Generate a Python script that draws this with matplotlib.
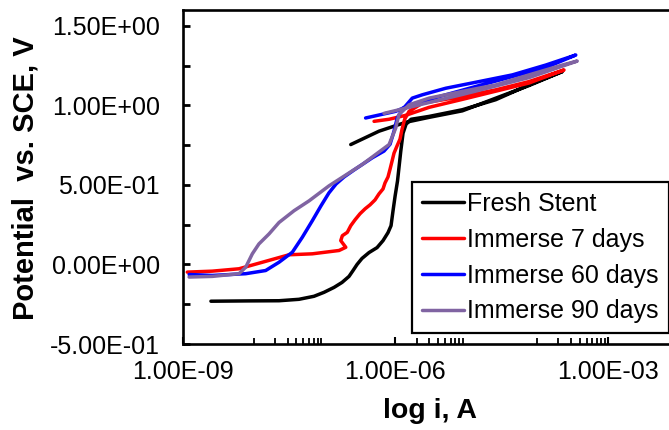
import numpy as np
import matplotlib.pyplot as plt
from matplotlib.ticker import FixedLocator, FuncFormatter, NullFormatter

plt.rcParams['font.family'] = ['Liberation Sans', 'DejaVu Sans']

# current (A) and potential (V vs SCE)
fresh_i = [2.48e-9, 8.55e-9, 2.27e-8, 4.34e-8, 7.08e-8, 9.82e-8, 1.36e-7, 1.76e-7,
           2.21e-7, 2.52e-7, 2.87e-7, 3.37e-7, 4.24e-7, 5.50e-7, 6.68e-7, 7.85e-7,
           8.67e-7, 9.25e-7, 9.90e-7, 1.07e-6, 1.19e-6, 1.28e-6, 1.41e-6, 1.66e-6,
           2.99e-6, 8.81e-6, 2.61e-5, 7.70e-5, 2.28e-4,
           7.70e-5, 8.81e-6, 2.99e-6, 1.40e-6, 5.86e-7, 2.34e-7]
fresh_e = [-0.231, -0.229, -0.228, -0.219, -0.200, -0.175, -0.144, -0.113,
           -0.075, -0.038, 0.000, 0.038, 0.075, 0.106, 0.150, 0.200,
           0.244, 0.338, 0.431, 0.525, 0.713, 0.825, 0.881, 0.913,
           0.931, 0.973, 1.036, 1.129, 1.213,
           1.125, 0.966, 0.925, 0.894, 0.838, 0.754]

d7_i = [1.15e-9, 2.59e-9, 6.18e-9, 1.32e-8, 3.14e-8, 6.70e-8, 1.60e-7, 1.99e-7,
        1.69e-7, 1.78e-7, 2.09e-7, 2.34e-7, 2.69e-7, 3.16e-7, 3.73e-7, 4.38e-7,
        5.15e-7, 5.86e-7, 6.68e-7, 7.13e-7, 7.85e-7, 8.40e-7, 8.96e-7, 9.55e-7,
        1.05e-6, 1.16e-6, 1.24e-6, 1.35e-6, 1.56e-6,
        2.40e-6, 8.81e-6, 2.61e-5, 7.70e-5, 2.40e-4,
        7.70e-5, 8.81e-6, 2.99e-6, 1.40e-6, 8.13e-7, 4.99e-7]
d7_e = [-0.048, -0.042, -0.027, 0.014, 0.061, 0.067, 0.088, 0.108,
        0.150, 0.181, 0.202, 0.244, 0.281, 0.319, 0.350, 0.375,
        0.406, 0.444, 0.475, 0.513, 0.550, 0.600, 0.650, 0.700,
        0.744, 0.788, 0.850, 0.913, 0.963,
        1.014, 1.056, 1.098, 1.150, 1.223,
        1.141, 1.038, 0.988, 0.938, 0.913, 0.900]

d60_i = [1.22e-9, 2.59e-9, 7.69e-9, 1.47e-8, 2.27e-8, 3.50e-8, 4.84e-8, 6.70e-8,
         8.89e-8, 1.15e-7, 1.45e-7, 1.88e-7, 2.60e-7, 4.72e-7, 6.90e-7, 8.40e-7,
         9.55e-7, 1.06e-6, 1.25e-6, 1.73e-6, 2.40e-6, 5.13e-6, 1.52e-5, 4.48e-5,
         1.33e-4, 3.52e-4,
         1.33e-4, 1.52e-5, 2.99e-6, 1.56e-6, 1.01e-6, 3.79e-7]
d60_e = [-0.063, -0.069, -0.058, -0.038, 0.014, 0.077, 0.171, 0.275,
         0.369, 0.450, 0.506, 0.550, 0.594, 0.671, 0.713, 0.756,
         0.838, 0.921, 0.973, 1.046, 1.067, 1.108, 1.150, 1.192,
         1.254, 1.317,
         1.238, 1.125, 1.038, 1.000, 0.963, 0.921]

d90_i = [1.22e-9, 2.59e-9, 6.18e-9, 7.69e-9, 9.53e-9, 1.18e-8, 1.64e-8, 2.27e-8,
         3.70e-8, 6.03e-8, 1.15e-7, 3.40e-7, 8.13e-7, 1.01e-6, 1.12e-6, 1.56e-6,
         2.99e-6, 8.81e-6, 2.61e-5, 7.70e-5, 2.28e-4, 3.69e-4,
         7.70e-5, 8.81e-6, 1.56e-6, 6.90e-7]
d90_e = [-0.079, -0.075, -0.058, -0.017, 0.067, 0.129, 0.192, 0.264,
         0.338, 0.400, 0.494, 0.629, 0.754, 0.858, 0.942, 1.004,
         1.046, 1.088, 1.129, 1.192, 1.254, 1.279,
         1.175, 1.069, 0.988, 0.950]

labels = ['Fresh Stent', 'Immerse 7 days', 'Immerse 60 days', 'Immerse 90 days']
colors = ['#000000', '#ff0000', '#0000ff', '#8064a2']

fig = plt.figure(figsize=(6.69, 4.30), dpi=100)
ax = fig.add_axes([183/669, 86/430, 486/669, 334/430])

for (xi, ye), lab, c in zip([(fresh_i, fresh_e), (d7_i, d7_e), (d60_i, d60_e), (d90_i, d90_e)],
                            labels, colors):
    ax.plot(xi, ye, '-', color=c, lw=2.5, label=lab,
            solid_capstyle='round', solid_joinstyle='round')

ax.set_xscale('log')
ax.set_xlim(1e-9, 7.3e-3)
ax.set_ylim(-0.5, 1.6)

ax.xaxis.set_major_locator(FixedLocator([1e-9, 1e-6, 1e-3]))
minor_x = [k * 10.0**n for n in (-8, -6, -4) for k in range(1, 10) if not (n == -6 and k == 1)]
ax.xaxis.set_minor_locator(FixedLocator(minor_x))
ax.xaxis.set_minor_formatter(NullFormatter())
ax.yaxis.set_major_locator(FixedLocator(np.arange(-0.5, 1.51, 0.5)))
ax.yaxis.set_minor_locator(FixedLocator([-0.25, 0.25, 0.75, 1.25]))
fmt = FuncFormatter(lambda v, p: '%.2E' % v)
ax.xaxis.set_major_formatter(fmt)
ax.yaxis.set_major_formatter(fmt)

ax.tick_params(axis='both', which='both', direction='in', colors='black')
ax.tick_params(axis='x', which='major', length=5, width=1.5, pad=11.5, labelsize=18)
ax.tick_params(axis='x', which='minor', length=4, width=1.3)
ax.tick_params(axis='y', which='major', length=5, width=2, pad=16.5, labelsize=18)
ax.tick_params(axis='y', which='minor', length=5, width=2)
ax.tick_params(top=False, right=False, which='both')

for s in ['left', 'bottom', 'top']:
    ax.spines[s].set_linewidth(1.9)
ax.spines['right'].set_visible(False)

leg = ax.legend(loc='upper left', bbox_to_anchor=(0.471, 0.485), fontsize=18,
                frameon=True, fancybox=False, framealpha=1, edgecolor='black',
                handlelength=1.7, handletextpad=0.12, labelspacing=0.47,
                borderpad=0.4, borderaxespad=0)
leg.get_frame().set_linewidth(1.6)

fig.text(26/669, 1 - 178/430, 'Potential  vs. SCE, V', rotation=90, ha='center',
         va='center', fontsize=21, fontweight='bold')
fig.text(430/669, 1 - 411/430, 'log i, A', ha='center', va='center',
         fontsize=20.5, fontweight='bold')

fig.savefig('out.png', dpi=100)
